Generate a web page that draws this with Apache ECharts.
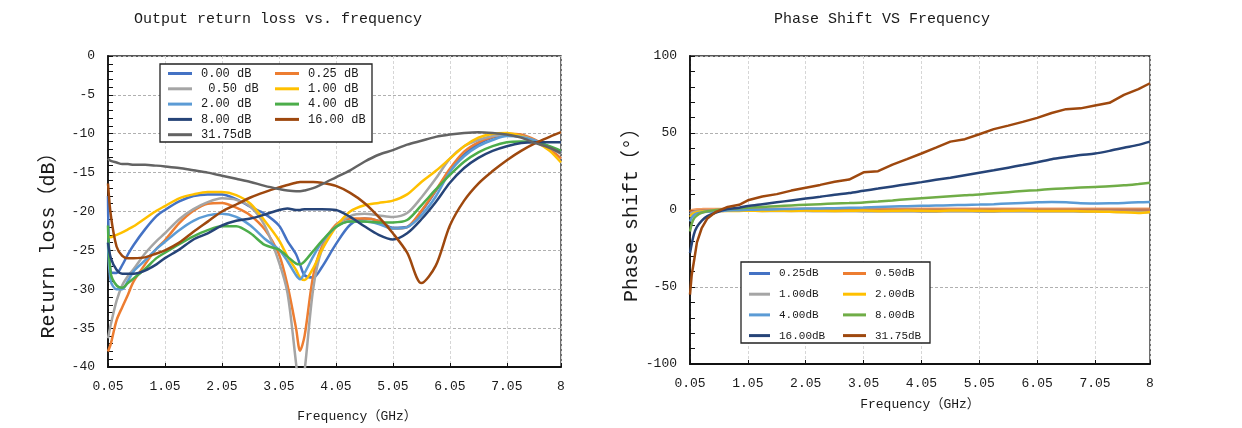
<!DOCTYPE html>
<html>
<head>
<meta charset="utf-8">
<script src="https://cdn.jsdelivr.net/npm/echarts@6/dist/echarts.min.js"></script>
<style>
html,body{margin:0;padding:0;background:#fff;}
#c{width:1242px;height:428px;}
</style>
</head>
<body>
<div id="c"></div>
<script>
// ---------- Left chart: Output return loss (dB) vs frequency (GHz) ----------
const freqRL = [0.05,0.1,0.2,0.3,0.4,0.5,0.7,0.9,1.05,1.3,1.55,1.8,2.05,2.3,2.55,2.8,3.05,3.2,3.35,3.42,3.5,3.65,3.8,4.05,4.3,4.55,4.8,5.05,5.3,5.55,5.8,6.05,6.3,6.55,6.8,7.05,7.3,7.55,7.8,8.0];
const rl000  = [-18.0,-27.8,-27.9,-26.9,-25.5,-24.3,-22.3,-20.6,-19.8,-18.7,-18.0,-17.8,-17.8,-18.4,-19.4,-20.3,-21.8,-23.8,-25.5,-26.8,-28.2,-28.5,-27.2,-24.2,-21.7,-20.9,-21.2,-22.1,-22.0,-20.0,-17.4,-14.8,-12.7,-11.3,-10.5,-10.2,-10.4,-10.9,-11.7,-12.4];
const rl025  = [-38.0,-37.0,-34.0,-32.3,-30.7,-29.0,-26.8,-24.8,-23.7,-21.5,-19.9,-19.0,-18.9,-19.5,-20.5,-22.3,-25.5,-29.5,-35.0,-37.9,-36.0,-28.3,-24.6,-21.7,-20.9,-20.9,-21.2,-22.2,-22.0,-19.9,-17.3,-14.5,-12.3,-11.1,-10.4,-10.0,-10.1,-10.8,-11.9,-13.2];
const rl050  = [-36.3,-34.5,-31.5,-29.5,-28.3,-27.4,-25.4,-23.8,-22.8,-21.0,-19.7,-18.8,-18.3,-18.5,-19.4,-21.8,-26.5,-30.5,-39.5,-44.0,-40.5,-30.0,-25.0,-21.9,-20.6,-20.3,-20.5,-20.7,-20.2,-18.2,-15.8,-13.2,-11.6,-10.8,-10.3,-10.1,-10.3,-10.9,-11.8,-12.6];
const rl100  = [-23.2,-23.3,-23.0,-22.7,-22.3,-21.9,-20.9,-19.9,-19.3,-18.3,-17.8,-17.5,-17.5,-17.9,-19.0,-21.2,-23.7,-25.8,-27.5,-28.5,-28.8,-27.3,-25.0,-22.0,-20.0,-19.2,-18.9,-18.6,-17.8,-16.2,-14.8,-13.2,-11.6,-10.5,-10.0,-9.9,-10.3,-11.0,-12.2,-13.7];
const rl200  = [-24.0,-29.0,-30.0,-30.0,-28.9,-27.7,-26.3,-24.8,-23.9,-22.4,-21.2,-20.5,-20.3,-20.7,-21.8,-23.5,-24.9,-26.4,-28.2,-28.7,-27.9,-25.8,-24.0,-22.0,-21.3,-21.3,-21.6,-22.2,-22.0,-20.5,-18.1,-14.9,-12.9,-11.6,-10.8,-10.3,-10.4,-10.9,-11.7,-12.5];
const rl400  = [-21.8,-28.0,-29.5,-29.8,-29.2,-28.6,-27.4,-26.0,-25.3,-24.2,-23.2,-22.4,-21.9,-21.9,-22.8,-24.3,-24.9,-25.8,-26.7,-26.8,-26.4,-25.1,-23.8,-22.0,-21.3,-21.3,-21.4,-21.4,-21.1,-19.2,-17.2,-15.3,-13.6,-12.4,-11.6,-11.1,-11.0,-11.1,-11.6,-12.2];
const rl800  = [-24.0,-26.0,-27.5,-28.0,-28.0,-28.0,-27.6,-26.8,-26.0,-24.9,-23.6,-22.8,-21.8,-21.2,-20.9,-20.4,-19.8,-19.6,-19.8,-19.8,-19.7,-19.7,-19.7,-19.8,-20.7,-21.9,-23.0,-23.6,-22.8,-21.0,-18.8,-16.3,-14.4,-13.1,-12.2,-11.6,-11.2,-11.1,-11.1,-11.1];
const rl1600 = [-16.4,-20.5,-24.5,-25.7,-26.0,-26.0,-25.9,-25.4,-25.0,-24.0,-22.6,-21.3,-20.0,-19.1,-18.2,-17.5,-16.9,-16.6,-16.3,-16.2,-16.2,-16.2,-16.3,-16.7,-17.6,-18.9,-20.7,-22.8,-25.3,-29.2,-27.0,-21.8,-18.6,-16.4,-14.8,-13.4,-12.2,-11.2,-10.4,-9.8];
const rl3175 = [-13.2,-13.5,-13.7,-13.9,-13.9,-14.0,-14.0,-14.1,-14.2,-14.4,-14.7,-15.0,-15.4,-15.8,-16.2,-16.7,-17.1,-17.3,-17.4,-17.4,-17.3,-17.0,-16.5,-15.6,-14.7,-13.6,-12.7,-12.1,-11.4,-10.9,-10.4,-10.1,-9.9,-9.8,-9.9,-10.1,-10.5,-11.2,-11.8,-12.5];

// ---------- Right chart: Phase shift (deg) vs frequency (GHz) ----------
const freqPS = [0.05,0.08,0.12,0.17,0.25,0.35,0.5,0.7,0.9,1.05,1.3,1.55,1.8,2.05,2.3,2.55,2.8,3.05,3.3,3.55,3.8,4.05,4.3,4.55,4.8,5.05,5.3,5.55,5.8,6.05,6.3,6.55,6.8,7.05,7.3,7.55,7.8,8.0];
const ps025  = [-2.5,-1.5,-0.9,-0.6,-0.4,-0.3,-0.2,-0.1,0.0,0.1,0.1,0.2,0.1,0.2,0.2,0.1,0.2,0.2,0.1,0.2,0.2,0.2,0.1,0.2,0.2,0.2,0.1,0.2,0.2,0.2,0.1,0.2,0.2,0.1,0.2,0.2,0.2,0.2];
const ps050  = [-1.5,-0.8,-0.4,-0.2,-0.1,0.0,0.0,0.1,0.1,0.1,0.1,0.2,0.1,0.1,0.2,0.1,0.1,0.2,0.1,0.1,0.1,0.2,0.1,0.1,0.1,0.2,0.1,0.1,0.2,0.1,0.1,0.1,0.2,0.1,0.1,0.1,0.2,0.1];
const ps100  = [-3.0,-2.0,-1.4,-1.0,-0.8,-0.6,-0.5,-0.5,-0.5,-0.5,-0.6,-0.6,-0.7,-0.7,-0.8,-0.8,-0.8,-0.9,-0.9,-1.0,-1.0,-1.1,-1.1,-1.0,-1.0,-1.1,-1.1,-1.0,-1.0,-0.9,-1.0,-1.0,-1.1,-1.1,-1.2,-1.3,-1.4,-1.5];
const ps200  = [-4.5,-3.0,-2.0,-1.4,-1.0,-0.8,-0.7,-0.6,-0.6,-0.5,-0.6,-0.5,-0.6,-0.4,-0.5,-0.6,-0.5,-0.4,-0.6,-0.5,-0.3,-0.5,-0.6,-0.4,-0.3,-0.5,-0.6,-0.5,-0.4,-0.6,-0.7,-0.6,-0.8,-1.0,-1.2,-1.4,-1.9,-1.3];
const ps400  = [-7.5,-5.0,-3.2,-2.2,-1.6,-1.2,-0.8,-0.4,-0.1,0.1,0.3,0.5,0.7,0.9,1.0,1.2,1.4,1.6,1.9,2.2,2.5,2.7,2.9,3.1,3.3,3.5,3.8,4.2,4.6,5.0,5.2,5.1,4.4,4.3,4.4,4.6,5.0,5.2];
const ps800  = [-14.0,-9.0,-5.5,-3.5,-1.8,-0.8,0.0,0.7,1.2,1.5,2.0,2.5,3.0,3.4,3.8,4.2,4.5,4.9,5.5,6.2,7.0,7.7,8.3,8.9,9.5,10.1,10.9,11.6,12.3,12.9,13.6,14.2,14.6,15.0,15.4,16.0,16.9,17.7];
const ps1600 = [-28.0,-22.0,-15.5,-11.0,-7.0,-4.0,-1.6,0.6,1.5,2.6,3.8,5.0,6.2,7.4,8.6,9.9,11.0,12.5,13.9,15.3,16.7,18.1,19.6,21.0,22.6,24.2,25.8,27.5,29.2,31.0,33.0,34.4,35.7,36.7,38.4,40.4,42.3,44.4];
const ps3175 = [-55.0,-42.0,-33.0,-21.0,-12.0,-5.5,-1.2,2.0,3.4,6.3,8.8,10.3,12.6,14.5,16.3,18.3,19.8,24.5,25.2,29.5,33.0,36.7,40.5,44.4,46.0,49.2,52.5,54.8,57.2,59.8,63.0,65.5,66.0,67.9,69.6,74.8,78.5,82.3];

// Legend names / colours
const rlNames  = ['0.00 dB','0.25 dB',' 0.50 dB','1.00 dB','2.00 dB','4.00 dB','8.00 dB','16.00 dB','31.75dB'];
const rlData   = [rl000, rl025, rl050, rl100, rl200, rl400, rl800, rl1600, rl3175];
const rlColors = ['#4472C4','#ED7D31','#A5A5A5','#FFC000','#5B9BD5','#4CAD4A','#264478','#9E480E','#636363'];
const psNames  = ['0.25dB','0.50dB','1.00dB','2.00dB','4.00dB','8.00dB','16.00dB','31.75dB'];
const psData   = [ps025, ps050, ps100, ps200, ps400, ps800, ps1600, ps3175];
const psColors = ['#4472C4','#ED7D31','#A5A5A5','#FFC000','#5B9BD5','#70AD47','#264478','#9E480E'];

const FONT = "'Liberation Mono','Noto Sans CJK SC',monospace";
const TXT = '#1a1a1a';
const F0 = 0.05; // axis starts at 0.05 GHz

function fmtFreq(v){
  const f = Math.round((v + F0) * 100) / 100;
  return f >= 8 ? '8' : f.toFixed(2);
}
function xAxisCfg(gi, gap, pad){
  return {
    type:'value', gridIndex:gi, min:0, max:8 - F0, interval:1,
    name:'Frequency（GHz）', nameLocation:'middle', nameGap:gap,
    nameTextStyle:{fontFamily:FONT, fontSize:13, color:TXT, padding:pad},
    axisLine:{show:true, onZero:false, lineStyle:{color:'#111', width:1.8}},
    axisTick:{show:true, inside:true, length:4, lineStyle:{color:'#111'}},
    axisLabel:{margin:13, fontFamily:FONT, fontSize:13, color:TXT, formatter:fmtFreq, showMaxLabel:true, showMinLabel:true},
    splitLine:{show:true, lineStyle:{color:'#d6d6d6', type:[3,2], width:1}}
  };
}
function yAxisCfg(gi, min, max, interval, name, gap, pad){
  return {
    type:'value', gridIndex:gi, min, max, interval,
    name, nameLocation:'middle', nameGap:gap, nameRotate:90,
    nameTextStyle:{fontFamily:FONT, fontSize:20, color:TXT, padding:pad},
    axisLine:{show:true, onZero:false, lineStyle:{color:'#111', width:1.8}},
    axisTick:{show:true, inside:true, length:5, lineStyle:{color:'#111'}},
    minorTick:{show:true, splitNumber:5, length:5, lineStyle:{color:'#111'}},
    axisLabel:{margin:13, fontFamily:FONT, fontSize:13, color:TXT},
    splitLine:{show:true, lineStyle:{color:'#b0b0b0', type:[3,2], width:1}}
  };
}
// legend items carry their own colour (the name "31.75dB" exists in both charts)
function legendCfg(names, colorOf, left, top, fs, iw, gap, lh){
  return {
    data:names.map(n=>({name:n, itemStyle:{color:colorOf(n)}})),
    orient:'vertical', left, top, padding:0, itemGap:gap,
    itemWidth:iw, itemHeight:3, icon:'rect', selectedMode:true,
    textStyle:{fontFamily:FONT, fontSize:fs, color:TXT, lineHeight:lh, padding:[0,0,0,4]}
  };
}
const rlColorOf = n => rlColors[rlNames.indexOf(n)];
const psColorOf = n => psColors[psNames.indexOf(n)];

const series = [];
rlNames.forEach((n,i)=>{
  series.push({
    type:'line', name:n, xAxisIndex:0, yAxisIndex:0,
    data: freqRL.map((f,k)=>[f - F0, rlData[i][k]]),
    showSymbol:false, smooth:0.3, clip:true,
    lineStyle:{width:2.5, color:rlColors[i]}, itemStyle:{color:rlColors[i]},
    emphasis:{disabled:true}
  });
});
psNames.forEach((n,i)=>{
  series.push({
    type:'line', name:n, xAxisIndex:1, yAxisIndex:1,
    data: freqPS.map((f,k)=>[f - F0, psData[i][k]]),
    showSymbol:false, smooth: i===7 ? false : 0.3, clip:true,
    lineStyle:{width: i===1 ? 4.5 : 2.5, color:psColors[i], opacity: i===1 ? 0.75 : 1},
    itemStyle:{color:psColors[i]},
    emphasis:{disabled:true}
  });
});

const chart = echarts.init(document.getElementById('c'), null, {renderer:'canvas'});
chart.setOption({
  animation:false,
  backgroundColor:'#fff',
  title:[
    {text:'Output return loss vs. frequency', left:134, top:12, padding:0,
     textStyle:{fontFamily:FONT, fontSize:15, fontWeight:'normal', color:TXT}},
    {text:'Phase Shift VS Frequency', left:774, top:12, padding:0,
     textStyle:{fontFamily:FONT, fontSize:15, fontWeight:'normal', color:TXT}}
  ],
  grid:[
    {left:108, top:56, width:453, height:314, show:true, borderColor:'#222', borderWidth:1.3, backgroundColor:'transparent', containLabel:false},
    {left:690, top:56, width:460, height:308, show:true, borderColor:'#222', borderWidth:1.3, backgroundColor:'transparent', containLabel:false}
  ],
  xAxis:[ xAxisCfg(0, 43, [0,0,0,45]), xAxisCfg(1, 34, 0) ],
  yAxis:[
    yAxisCfg(0, -40, 0, 5, 'Return loss（dB）', 49, [0,58,0,0]),
    yAxisCfg(1, -100, 100, 50, 'Phase shift（°）', 41, 0)
  ],
  legend:[
    legendCfg(['0.00 dB',' 0.50 dB','2.00 dB','8.00 dB','31.75dB'], rlColorOf, 168, 66, 12, 24, 0.3, 15),
    legendCfg(['0.25 dB','1.00 dB','4.00 dB','16.00 dB'], rlColorOf, 275, 66, 12, 24, 0.3, 15),
    legendCfg(['0.25dB','1.00dB','4.00dB','16.00dB'], psColorOf, 749, 266, 11, 21, 5.7, 15),
    legendCfg(['0.50dB','2.00dB','8.00dB','31.75dB'], psColorOf, 843, 266, 11, 23, 5.7, 15)
  ],
  graphic:[
    {type:'rect', z:3, shape:{x:160, y:64, width:212, height:78}, style:{fill:'#fff', stroke:'#222', lineWidth:1.3}},
    {type:'rect', z:3, shape:{x:741, y:262, width:189, height:81}, style:{fill:'#fff', stroke:'#222', lineWidth:1.3}}
  ],
  series
});
</script>
</body>
</html>
